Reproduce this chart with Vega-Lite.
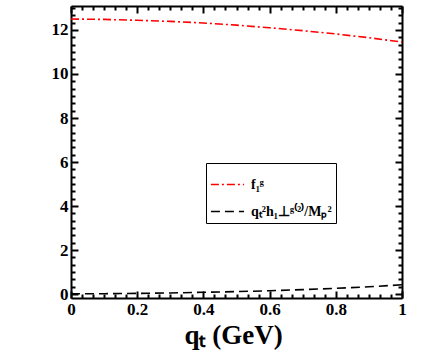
{
  "$schema": "https://vega.github.io/schema/vega-lite/v6.json",
  "width": 331,
  "height": 292,
  "autosize": {"type": "none"},
  "padding": {"left": 71, "top": 6, "right": 34, "bottom": 56},
  "background": "white",
  "config": {
    "view": {"stroke": null},
    "axis": {"domainColor": "black", "domainWidth": 2, "tickColor": "black", "tickWidth": 2, "labelFont": "Liberation Serif", "labelFontWeight": "bold", "labelFontSize": 17, "labelColor": "black", "grid": false}
  },
  "data": {"values": [
    {"qt": 0.0, "v": 12.5, "s": "f₁ᵍ"},
    {"qt": 0.1, "v": 12.48, "s": "f₁ᵍ"},
    {"qt": 0.2, "v": 12.44, "s": "f₁ᵍ"},
    {"qt": 0.3, "v": 12.39, "s": "f₁ᵍ"},
    {"qt": 0.4, "v": 12.32, "s": "f₁ᵍ"},
    {"qt": 0.5, "v": 12.22, "s": "f₁ᵍ"},
    {"qt": 0.6, "v": 12.1, "s": "f₁ᵍ"},
    {"qt": 0.7, "v": 11.97, "s": "f₁ᵍ"},
    {"qt": 0.8, "v": 11.82, "s": "f₁ᵍ"},
    {"qt": 0.9, "v": 11.65, "s": "f₁ᵍ"},
    {"qt": 1.0, "v": 11.45, "s": "f₁ᵍ"},
    {"qt": 0.0, "v": 0.01, "s": "qₜ²h₁⊥ᵍ⁽²⁾/Mₚ²"},
    {"qt": 0.1, "v": 0.015, "s": "qₜ²h₁⊥ᵍ⁽²⁾/Mₚ²"},
    {"qt": 0.2, "v": 0.03, "s": "qₜ²h₁⊥ᵍ⁽²⁾/Mₚ²"},
    {"qt": 0.3, "v": 0.05, "s": "qₜ²h₁⊥ᵍ⁽²⁾/Mₚ²"},
    {"qt": 0.4, "v": 0.08, "s": "qₜ²h₁⊥ᵍ⁽²⁾/Mₚ²"},
    {"qt": 0.5, "v": 0.11, "s": "qₜ²h₁⊥ᵍ⁽²⁾/Mₚ²"},
    {"qt": 0.6, "v": 0.15, "s": "qₜ²h₁⊥ᵍ⁽²⁾/Mₚ²"},
    {"qt": 0.7, "v": 0.2, "s": "qₜ²h₁⊥ᵍ⁽²⁾/Mₚ²"},
    {"qt": 0.8, "v": 0.26, "s": "qₜ²h₁⊥ᵍ⁽²⁾/Mₚ²"},
    {"qt": 0.9, "v": 0.33, "s": "qₜ²h₁⊥ᵍ⁽²⁾/Mₚ²"},
    {"qt": 1.0, "v": 0.42, "s": "qₜ²h₁⊥ᵍ⁽²⁾/Mₚ²"}
  ]},
  "layer": [
    {
      "mark": {"type": "line", "strokeWidth": 1.6},
      "encoding": {
        "x": {"field": "qt", "type": "quantitative", "scale": {"domain": [0, 1], "nice": false, "zero": false},
          "axis": {"orient": "bottom", "title": "qₜ (GeV)", "titleFont": "Liberation Serif", "titleFontSize": 27, "titleFontWeight": "bold", "titleColor": "black", "titlePadding": 2, "titleX": 162,
            "values": [0,0.0333,0.0667,0.1,0.1333,0.1667,0.2,0.2333,0.2667,0.3,0.3333,0.3667,0.4,0.4333,0.4667,0.5,0.5333,0.5667,0.6,0.6333,0.6667,0.7,0.7333,0.7667,0.8,0.8333,0.8667,0.9,0.9333,0.9667,1],
            "tickSize": {"condition": {"test": "abs(datum.value*5 - round(datum.value*5)) < 0.01", "value": -7}, "value": -4},
            "labelExpr": "abs(datum.value*5 - round(datum.value*5)) < 0.01 ? (datum.value == 0 || datum.value == 1 ? format(datum.value, 'd') : format(datum.value, '.1f')) : ''",
            "labelPadding": 10, "labelFlush": false, "labelOverlap": false}},
        "y": {"field": "v", "type": "quantitative", "scale": {"domain": [-0.18, 13.09], "nice": false, "zero": false},
          "axis": {"orient": "left", "title": null,
            "values": [0,0.3333,0.6667,1,1.3333,1.6667,2,2.3333,2.6667,3,3.3333,3.6667,4,4.3333,4.6667,5,5.3333,5.6667,6,6.3333,6.6667,7,7.3333,7.6667,8,8.3333,8.6667,9,9.3333,9.6667,10,10.3333,10.6667,11,11.3333,11.6667,12,12.3333,12.6667,13],
            "tickSize": {"condition": {"test": "abs(datum.value/2 - round(datum.value/2)) < 0.01", "value": -7}, "value": -4},
            "labelExpr": "abs(datum.value/2 - round(datum.value/2)) < 0.01 ? format(datum.value, 'd') : ''",
            "labelPadding": 10, "labelFlush": false, "labelOverlap": false}},
        "color": {"field": "s", "type": "nominal", "scale": {"domain": ["f₁ᵍ", "qₜ²h₁⊥ᵍ⁽²⁾/Mₚ²"], "range": ["#ff0000", "#000000"]},
          "legend": {"title": null, "orient": "none", "legendX": 135, "legendY": 157, "strokeColor": "black", "fillColor": "white", "padding": 4, "labelFont": "Liberation Serif", "labelFontWeight": "bold", "labelFontSize": 14, "labelColor": "black", "symbolSize": 1100, "symbolStrokeWidth": 1.6, "rowPadding": 2, "labelOffset": 6}},
        "strokeDash": {"field": "s", "type": "nominal", "scale": {"domain": ["f₁ᵍ", "qₜ²h₁⊥ᵍ⁽²⁾/Mₚ²"], "range": [[8, 3, 2, 3], [9, 5]]}, "legend": null}
      }
    },
    {
      "mark": {"type": "line", "opacity": 0},
      "encoding": {
        "x": {"field": "qt", "type": "quantitative",
          "axis": {"orient": "top", "title": null, "labels": false,
            "values": [0,0.0333,0.0667,0.1,0.1333,0.1667,0.2,0.2333,0.2667,0.3,0.3333,0.3667,0.4,0.4333,0.4667,0.5,0.5333,0.5667,0.6,0.6333,0.6667,0.7,0.7333,0.7667,0.8,0.8333,0.8667,0.9,0.9333,0.9667,1],
            "tickSize": {"condition": {"test": "abs(datum.value*5 - round(datum.value*5)) < 0.01", "value": -7}, "value": -4}}},
        "y": {"field": "v", "type": "quantitative",
          "axis": {"orient": "right", "title": null, "labels": false,
            "values": [0,0.3333,0.6667,1,1.3333,1.6667,2,2.3333,2.6667,3,3.3333,3.6667,4,4.3333,4.6667,5,5.3333,5.6667,6,6.3333,6.6667,7,7.3333,7.6667,8,8.3333,8.6667,9,9.3333,9.6667,10,10.3333,10.6667,11,11.3333,11.6667,12,12.3333,12.6667,13],
            "tickSize": {"condition": {"test": "abs(datum.value/2 - round(datum.value/2)) < 0.01", "value": -7}, "value": -4}}},
        "detail": {"field": "s"}
      }
    }
  ],
  "resolve": {"axis": {"x": "independent", "y": "independent"}}
}
